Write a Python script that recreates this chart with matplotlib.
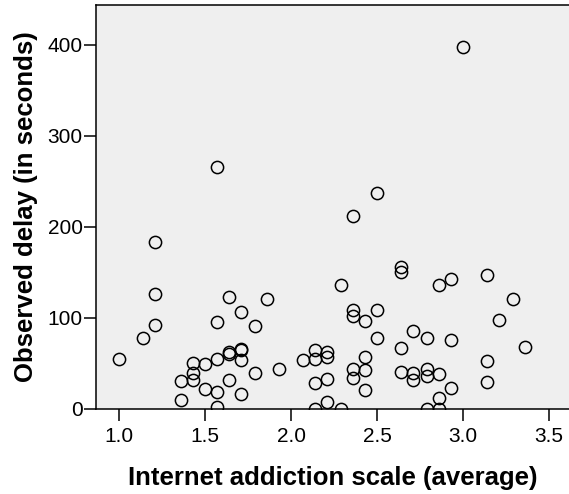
import numpy as np
import matplotlib
matplotlib.use("Agg")
import matplotlib.pyplot as plt

plt.rcParams['font.family'] = ['Liberation Sans', 'DejaVu Sans']

# internet addiction scale (average) and observed delay in seconds
addiction = [1.00, 1.14, 1.21, 1.21, 1.21, 1.36, 1.36, 1.43, 1.43, 1.43,
             1.50, 1.50, 1.57, 1.57, 1.57, 1.57, 1.57, 1.64, 1.64, 1.64,
             1.64, 1.71, 1.71, 1.71, 1.71, 1.71, 1.79, 1.79, 1.86, 1.93,
             2.07, 2.14, 2.14, 2.14, 2.14, 2.21, 2.21, 2.21, 2.21, 2.29,
             2.29, 2.36, 2.36, 2.36, 2.36, 2.36, 2.43, 2.43, 2.43, 2.43,
             2.50, 2.50, 2.50, 2.64, 2.64, 2.64, 2.64, 2.71, 2.71, 2.71,
             2.79, 2.79, 2.79, 2.79, 2.86, 2.86, 2.86, 2.86, 2.93, 2.93,
             2.93, 3.00, 3.14, 3.14, 3.14, 3.21, 3.29, 3.36]
delay = [55, 78, 183, 126, 92, 30, 9, 50, 39, 31,
         49, 22, 266, 95, 55, 18, 2, 123, 62, 60,
         31, 106, 66, 64, 54, 16, 91, 39, 120, 44,
         53, 65, 55, 28, 0, 62, 57, 33, 7, 136,
         0, 212, 108, 102, 44, 34, 96, 57, 42, 20,
         237, 108, 78, 156, 150, 67, 40, 85, 39, 32,
         78, 44, 36, 0, 136, 38, 12, 0, 143, 75,
         23, 397, 147, 52, 29, 97, 120, 68]

xticks = [1.0, 1.5, 2.0, 2.5, 3.0, 3.5]
yticks = [0, 100, 200, 300, 400]

fig = plt.figure(figsize=(5.69, 4.94), dpi=100)
ax = fig.add_axes([0.1687, 0.1727, 0.8313, 0.8178])
ax.set_facecolor('#efefef')

ax.plot(addiction, delay, linestyle='none', marker='o', markersize=8.8,
        markerfacecolor='none', markeredgecolor='black', markeredgewidth=1.1)

ax.set_xlim(0.864, 3.618)
ax.set_ylim(0, 444)
ax.set_xticks(xticks)
ax.set_xticklabels(['%.1f' % t for t in xticks])
ax.set_yticks(yticks)

for s in ['left', 'bottom', 'top']:
    ax.spines[s].set_linewidth(1.1)
ax.spines['right'].set_visible(False)
ax.tick_params(length=8.5, width=1.1, colors='black')
ax.tick_params(axis='y', pad=1)
ax.tick_params(axis='x', pad=5)
for lab in ax.get_xticklabels() + ax.get_yticklabels():
    lab.set_family(['Liberation Sans Narrow', 'Liberation Sans'])
    lab.set_fontsize(15)

ax.set_xlabel('Internet addiction scale (average)', fontsize=18.5,
              fontweight='bold', labelpad=14)
ax.set_ylabel('Observed delay (in seconds)', fontsize=18.5,
              fontweight='bold', labelpad=7)

fig.savefig('out.png', dpi=100)
